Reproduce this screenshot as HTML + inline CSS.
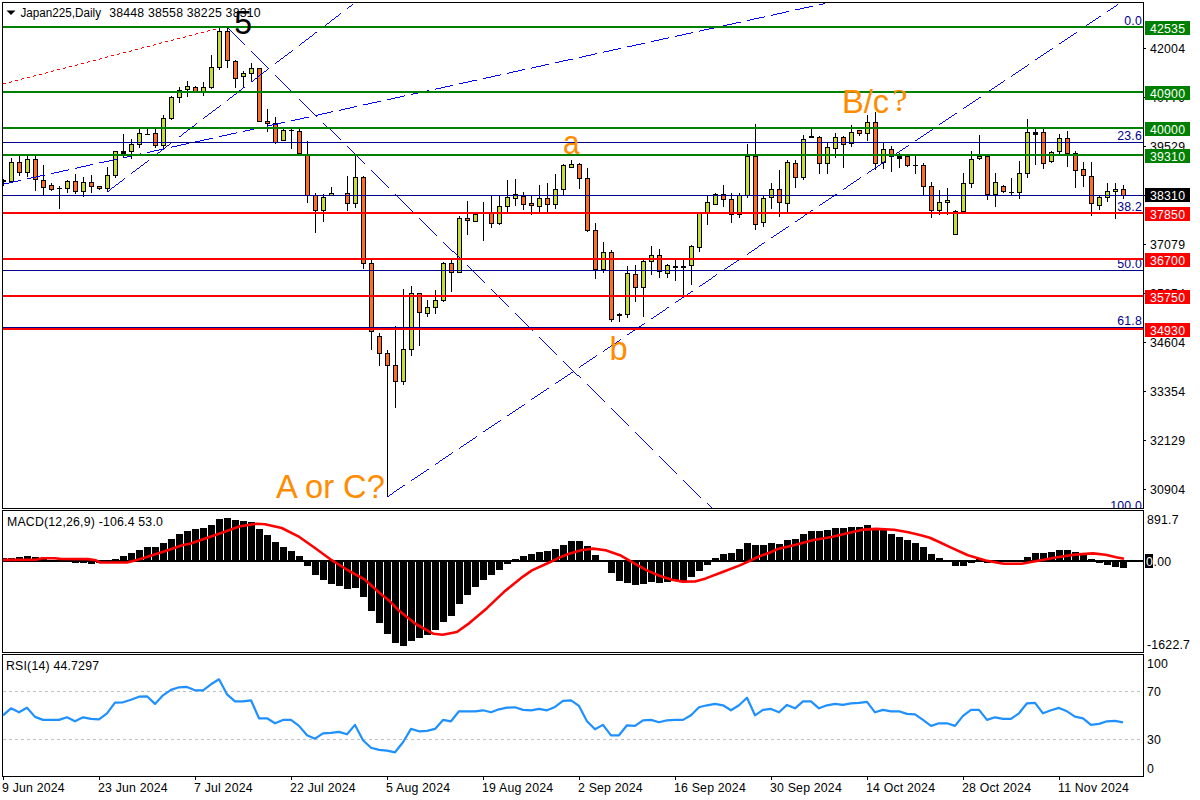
<!DOCTYPE html>
<html><head><meta charset="utf-8"><title>Japan225 Daily</title>
<style>html,body{margin:0;padding:0;background:#fff;overflow:hidden}</style></head>
<body>
<svg width="1200" height="800" viewBox="0 0 1200 800" style="display:block">
<defs>
<clipPath id="cm"><rect x="3" y="3" width="1140" height="505"/></clipPath>
<clipPath id="cd"><rect x="3" y="511" width="1140" height="141"/></clipPath>
<clipPath id="cr"><rect x="3" y="655" width="1140" height="121"/></clipPath>
</defs>
<rect width="1200" height="800" fill="#fff"/>
<g clip-path="url(#cm)" shape-rendering="crispEdges">
<rect x="3" y="179" width="1" height="7" fill="#000"/>
<rect x="1" y="180" width="5" height="2" fill="#000"/>
<rect x="11" y="158" width="1" height="24" fill="#000"/>
<rect x="9" y="162" width="5" height="20" fill="#000"/>
<rect x="10" y="163" width="3" height="18" fill="#C9DC34"/>
<rect x="19" y="156" width="1" height="20" fill="#000"/>
<rect x="17" y="162" width="5" height="11" fill="#000"/>
<rect x="18" y="163" width="3" height="9" fill="#FF6C24"/>
<rect x="27" y="156" width="1" height="21" fill="#000"/>
<rect x="25" y="159" width="5" height="14" fill="#000"/>
<rect x="26" y="160" width="3" height="12" fill="#C9DC34"/>
<rect x="35" y="156" width="1" height="35" fill="#000"/>
<rect x="33" y="159" width="5" height="21" fill="#000"/>
<rect x="34" y="160" width="3" height="19" fill="#FF6C24"/>
<rect x="43" y="165" width="1" height="30" fill="#000"/>
<rect x="41" y="180" width="5" height="8" fill="#000"/>
<rect x="42" y="181" width="3" height="6" fill="#FF6C24"/>
<rect x="51" y="183" width="1" height="8" fill="#000"/>
<rect x="49" y="185" width="5" height="5" fill="#000"/>
<rect x="50" y="186" width="3" height="3" fill="#FF6C24"/>
<rect x="59" y="186" width="1" height="23" fill="#000"/>
<rect x="57" y="188" width="5" height="1" fill="#000"/>
<rect x="67" y="180" width="1" height="13" fill="#000"/>
<rect x="65" y="181" width="5" height="8" fill="#000"/>
<rect x="66" y="182" width="3" height="6" fill="#C9DC34"/>
<rect x="75" y="174" width="1" height="20" fill="#000"/>
<rect x="73" y="181" width="5" height="11" fill="#000"/>
<rect x="74" y="182" width="3" height="9" fill="#FF6C24"/>
<rect x="83" y="177" width="1" height="20" fill="#000"/>
<rect x="81" y="182" width="5" height="10" fill="#000"/>
<rect x="82" y="183" width="3" height="8" fill="#C9DC34"/>
<rect x="91" y="175" width="1" height="18" fill="#000"/>
<rect x="89" y="182" width="5" height="5" fill="#000"/>
<rect x="90" y="183" width="3" height="3" fill="#FF6C24"/>
<rect x="99" y="186" width="1" height="4" fill="#000"/>
<rect x="97" y="186" width="5" height="3" fill="#000"/>
<rect x="98" y="187" width="3" height="1" fill="#FF6C24"/>
<rect x="107" y="167" width="1" height="25" fill="#000"/>
<rect x="105" y="175" width="5" height="14" fill="#000"/>
<rect x="106" y="176" width="3" height="12" fill="#C9DC34"/>
<rect x="115" y="151" width="1" height="27" fill="#000"/>
<rect x="113" y="151" width="5" height="25" fill="#000"/>
<rect x="114" y="152" width="3" height="23" fill="#C9DC34"/>
<rect x="123" y="134" width="1" height="24" fill="#000"/>
<rect x="121" y="151" width="5" height="3" fill="#000"/>
<rect x="131" y="139" width="1" height="20" fill="#000"/>
<rect x="129" y="144" width="5" height="8" fill="#000"/>
<rect x="130" y="145" width="3" height="6" fill="#C9DC34"/>
<rect x="139" y="129" width="1" height="19" fill="#000"/>
<rect x="137" y="133" width="5" height="12" fill="#000"/>
<rect x="138" y="134" width="3" height="10" fill="#C9DC34"/>
<rect x="147" y="129" width="1" height="6" fill="#000"/>
<rect x="145" y="134" width="5" height="1" fill="#000"/>
<rect x="155" y="129" width="1" height="19" fill="#000"/>
<rect x="153" y="133" width="5" height="13" fill="#000"/>
<rect x="154" y="134" width="3" height="11" fill="#FF6C24"/>
<rect x="163" y="115" width="1" height="33" fill="#000"/>
<rect x="161" y="118" width="5" height="28" fill="#000"/>
<rect x="162" y="119" width="3" height="26" fill="#C9DC34"/>
<rect x="171" y="96" width="1" height="24" fill="#000"/>
<rect x="169" y="97" width="5" height="22" fill="#000"/>
<rect x="170" y="98" width="3" height="20" fill="#C9DC34"/>
<rect x="179" y="87" width="1" height="16" fill="#000"/>
<rect x="177" y="90" width="5" height="8" fill="#000"/>
<rect x="178" y="91" width="3" height="6" fill="#C9DC34"/>
<rect x="187" y="81" width="1" height="16" fill="#000"/>
<rect x="185" y="86" width="5" height="4" fill="#000"/>
<rect x="186" y="87" width="3" height="2" fill="#C9DC34"/>
<rect x="195" y="86" width="1" height="5" fill="#000"/>
<rect x="193" y="87" width="5" height="5" fill="#000"/>
<rect x="194" y="88" width="3" height="3" fill="#FF6C24"/>
<rect x="203" y="82" width="1" height="14" fill="#000"/>
<rect x="201" y="87" width="5" height="5" fill="#000"/>
<rect x="202" y="88" width="3" height="3" fill="#C9DC34"/>
<rect x="211" y="55" width="1" height="34" fill="#000"/>
<rect x="209" y="67" width="5" height="21" fill="#000"/>
<rect x="210" y="68" width="3" height="19" fill="#C9DC34"/>
<rect x="219" y="28" width="1" height="42" fill="#000"/>
<rect x="217" y="31" width="5" height="37" fill="#000"/>
<rect x="218" y="32" width="3" height="35" fill="#C9DC34"/>
<rect x="227" y="28" width="1" height="40" fill="#000"/>
<rect x="225" y="31" width="5" height="30" fill="#000"/>
<rect x="226" y="32" width="3" height="28" fill="#FF6C24"/>
<rect x="235" y="60" width="1" height="28" fill="#000"/>
<rect x="233" y="61" width="5" height="18" fill="#000"/>
<rect x="234" y="62" width="3" height="16" fill="#FF6C24"/>
<rect x="243" y="71" width="1" height="16" fill="#000"/>
<rect x="241" y="73" width="5" height="4" fill="#000"/>
<rect x="242" y="74" width="3" height="2" fill="#C9DC34"/>
<rect x="251" y="63" width="1" height="19" fill="#000"/>
<rect x="249" y="68" width="5" height="6" fill="#000"/>
<rect x="250" y="69" width="3" height="4" fill="#C9DC34"/>
<rect x="259" y="68" width="1" height="53" fill="#000"/>
<rect x="257" y="68" width="5" height="54" fill="#000"/>
<rect x="258" y="69" width="3" height="52" fill="#FF6C24"/>
<rect x="267" y="109" width="1" height="23" fill="#000"/>
<rect x="265" y="121" width="5" height="3" fill="#000"/>
<rect x="266" y="122" width="3" height="1" fill="#FF6C24"/>
<rect x="275" y="117" width="1" height="27" fill="#000"/>
<rect x="273" y="123" width="5" height="20" fill="#000"/>
<rect x="274" y="124" width="3" height="18" fill="#FF6C24"/>
<rect x="283" y="129" width="1" height="11" fill="#000"/>
<rect x="281" y="130" width="5" height="11" fill="#000"/>
<rect x="282" y="131" width="3" height="9" fill="#C9DC34"/>
<rect x="291" y="129" width="1" height="20" fill="#000"/>
<rect x="289" y="130" width="5" height="1" fill="#000"/>
<rect x="299" y="129" width="1" height="25" fill="#000"/>
<rect x="297" y="131" width="5" height="23" fill="#000"/>
<rect x="298" y="132" width="3" height="21" fill="#FF6C24"/>
<rect x="307" y="141" width="1" height="62" fill="#000"/>
<rect x="305" y="154" width="5" height="42" fill="#000"/>
<rect x="306" y="155" width="3" height="40" fill="#FF6C24"/>
<rect x="315" y="193" width="1" height="40" fill="#000"/>
<rect x="313" y="195" width="5" height="16" fill="#000"/>
<rect x="314" y="196" width="3" height="14" fill="#FF6C24"/>
<rect x="323" y="194" width="1" height="28" fill="#000"/>
<rect x="321" y="197" width="5" height="14" fill="#000"/>
<rect x="322" y="198" width="3" height="12" fill="#C9DC34"/>
<rect x="331" y="187" width="1" height="8" fill="#000"/>
<rect x="329" y="193" width="5" height="3" fill="#000"/>
<rect x="330" y="194" width="3" height="1" fill="#C9DC34"/>
<rect x="337" y="195" width="5" height="1" fill="#000"/>
<rect x="347" y="176" width="1" height="35" fill="#000"/>
<rect x="345" y="193" width="5" height="11" fill="#000"/>
<rect x="346" y="194" width="3" height="9" fill="#FF6C24"/>
<rect x="355" y="156" width="1" height="52" fill="#000"/>
<rect x="353" y="177" width="5" height="27" fill="#000"/>
<rect x="354" y="178" width="3" height="25" fill="#C9DC34"/>
<rect x="363" y="176" width="1" height="93" fill="#000"/>
<rect x="361" y="177" width="5" height="87" fill="#000"/>
<rect x="362" y="178" width="3" height="85" fill="#FF6C24"/>
<rect x="371" y="260" width="1" height="90" fill="#000"/>
<rect x="369" y="263" width="5" height="69" fill="#000"/>
<rect x="370" y="264" width="3" height="67" fill="#FF6C24"/>
<rect x="379" y="333" width="1" height="33" fill="#000"/>
<rect x="377" y="336" width="5" height="18" fill="#000"/>
<rect x="378" y="337" width="3" height="16" fill="#FF6C24"/>
<rect x="387" y="350" width="1" height="146" fill="#000"/>
<rect x="385" y="353" width="5" height="13" fill="#000"/>
<rect x="386" y="354" width="3" height="11" fill="#FF6C24"/>
<rect x="395" y="326" width="1" height="82" fill="#000"/>
<rect x="393" y="365" width="5" height="17" fill="#000"/>
<rect x="394" y="366" width="3" height="15" fill="#FF6C24"/>
<rect x="403" y="289" width="1" height="96" fill="#000"/>
<rect x="401" y="349" width="5" height="33" fill="#000"/>
<rect x="402" y="350" width="3" height="31" fill="#C9DC34"/>
<rect x="411" y="286" width="1" height="70" fill="#000"/>
<rect x="409" y="293" width="5" height="57" fill="#000"/>
<rect x="410" y="294" width="3" height="55" fill="#C9DC34"/>
<rect x="419" y="293" width="1" height="53" fill="#000"/>
<rect x="417" y="293" width="5" height="20" fill="#000"/>
<rect x="418" y="294" width="3" height="18" fill="#FF6C24"/>
<rect x="427" y="300" width="1" height="17" fill="#000"/>
<rect x="425" y="307" width="5" height="7" fill="#000"/>
<rect x="426" y="308" width="3" height="5" fill="#C9DC34"/>
<rect x="435" y="290" width="1" height="24" fill="#000"/>
<rect x="433" y="300" width="5" height="8" fill="#000"/>
<rect x="434" y="301" width="3" height="6" fill="#C9DC34"/>
<rect x="443" y="262" width="1" height="40" fill="#000"/>
<rect x="441" y="263" width="5" height="38" fill="#000"/>
<rect x="442" y="264" width="3" height="36" fill="#C9DC34"/>
<rect x="451" y="260" width="1" height="32" fill="#000"/>
<rect x="449" y="263" width="5" height="10" fill="#000"/>
<rect x="450" y="264" width="3" height="8" fill="#FF6C24"/>
<rect x="459" y="216" width="1" height="56" fill="#000"/>
<rect x="457" y="218" width="5" height="55" fill="#000"/>
<rect x="458" y="219" width="3" height="53" fill="#C9DC34"/>
<rect x="467" y="201" width="1" height="34" fill="#000"/>
<rect x="465" y="218" width="5" height="3" fill="#000"/>
<rect x="466" y="219" width="3" height="1" fill="#FF6C24"/>
<rect x="475" y="214" width="1" height="7" fill="#000"/>
<rect x="473" y="214" width="5" height="8" fill="#000"/>
<rect x="474" y="215" width="3" height="6" fill="#C9DC34"/>
<rect x="483" y="202" width="1" height="39" fill="#000"/>
<rect x="481" y="213" width="5" height="1" fill="#000"/>
<rect x="491" y="195" width="1" height="33" fill="#000"/>
<rect x="489" y="213" width="5" height="11" fill="#000"/>
<rect x="490" y="214" width="3" height="9" fill="#FF6C24"/>
<rect x="499" y="196" width="1" height="29" fill="#000"/>
<rect x="497" y="206" width="5" height="18" fill="#000"/>
<rect x="498" y="207" width="3" height="16" fill="#C9DC34"/>
<rect x="507" y="180" width="1" height="32" fill="#000"/>
<rect x="505" y="197" width="5" height="10" fill="#000"/>
<rect x="506" y="198" width="3" height="8" fill="#C9DC34"/>
<rect x="515" y="179" width="1" height="27" fill="#000"/>
<rect x="513" y="194" width="5" height="5" fill="#000"/>
<rect x="514" y="195" width="3" height="3" fill="#C9DC34"/>
<rect x="523" y="192" width="1" height="18" fill="#000"/>
<rect x="521" y="196" width="5" height="9" fill="#000"/>
<rect x="522" y="197" width="3" height="7" fill="#FF6C24"/>
<rect x="531" y="196" width="1" height="19" fill="#000"/>
<rect x="529" y="203" width="5" height="3" fill="#000"/>
<rect x="530" y="204" width="3" height="1" fill="#FF6C24"/>
<rect x="539" y="185" width="1" height="27" fill="#000"/>
<rect x="537" y="198" width="5" height="9" fill="#000"/>
<rect x="538" y="199" width="3" height="7" fill="#C9DC34"/>
<rect x="547" y="183" width="1" height="29" fill="#000"/>
<rect x="545" y="198" width="5" height="7" fill="#000"/>
<rect x="546" y="199" width="3" height="5" fill="#FF6C24"/>
<rect x="555" y="174" width="1" height="35" fill="#000"/>
<rect x="553" y="189" width="5" height="16" fill="#000"/>
<rect x="554" y="190" width="3" height="14" fill="#C9DC34"/>
<rect x="563" y="164" width="1" height="31" fill="#000"/>
<rect x="561" y="165" width="5" height="25" fill="#000"/>
<rect x="562" y="166" width="3" height="23" fill="#C9DC34"/>
<rect x="571" y="160" width="1" height="8" fill="#000"/>
<rect x="569" y="164" width="5" height="4" fill="#000"/>
<rect x="570" y="165" width="3" height="2" fill="#C9DC34"/>
<rect x="579" y="163" width="1" height="26" fill="#000"/>
<rect x="577" y="164" width="5" height="15" fill="#000"/>
<rect x="578" y="165" width="3" height="13" fill="#FF6C24"/>
<rect x="587" y="168" width="1" height="64" fill="#000"/>
<rect x="585" y="178" width="5" height="53" fill="#000"/>
<rect x="586" y="179" width="3" height="51" fill="#FF6C24"/>
<rect x="595" y="223" width="1" height="56" fill="#000"/>
<rect x="593" y="230" width="5" height="40" fill="#000"/>
<rect x="594" y="231" width="3" height="38" fill="#FF6C24"/>
<rect x="603" y="242" width="1" height="31" fill="#000"/>
<rect x="601" y="252" width="5" height="18" fill="#000"/>
<rect x="602" y="253" width="3" height="16" fill="#C9DC34"/>
<rect x="611" y="250" width="1" height="72" fill="#000"/>
<rect x="609" y="252" width="5" height="68" fill="#000"/>
<rect x="610" y="253" width="3" height="66" fill="#FF6C24"/>
<rect x="619" y="313" width="1" height="9" fill="#000"/>
<rect x="617" y="314" width="5" height="2" fill="#000"/>
<rect x="627" y="266" width="1" height="52" fill="#000"/>
<rect x="625" y="273" width="5" height="42" fill="#000"/>
<rect x="626" y="274" width="3" height="40" fill="#C9DC34"/>
<rect x="635" y="265" width="1" height="37" fill="#000"/>
<rect x="633" y="274" width="5" height="14" fill="#000"/>
<rect x="634" y="275" width="3" height="12" fill="#FF6C24"/>
<rect x="643" y="260" width="1" height="57" fill="#000"/>
<rect x="641" y="261" width="5" height="27" fill="#000"/>
<rect x="642" y="262" width="3" height="25" fill="#C9DC34"/>
<rect x="651" y="246" width="1" height="29" fill="#000"/>
<rect x="649" y="255" width="5" height="7" fill="#000"/>
<rect x="650" y="256" width="3" height="5" fill="#C9DC34"/>
<rect x="659" y="249" width="1" height="29" fill="#000"/>
<rect x="657" y="255" width="5" height="17" fill="#000"/>
<rect x="658" y="256" width="3" height="15" fill="#FF6C24"/>
<rect x="667" y="264" width="1" height="14" fill="#000"/>
<rect x="665" y="265" width="5" height="9" fill="#000"/>
<rect x="666" y="266" width="3" height="7" fill="#C9DC34"/>
<rect x="675" y="260" width="1" height="21" fill="#000"/>
<rect x="673" y="266" width="5" height="2" fill="#000"/>
<rect x="683" y="260" width="1" height="35" fill="#000"/>
<rect x="681" y="266" width="5" height="2" fill="#000"/>
<rect x="691" y="245" width="1" height="40" fill="#000"/>
<rect x="689" y="246" width="5" height="20" fill="#000"/>
<rect x="690" y="247" width="3" height="18" fill="#C9DC34"/>
<rect x="699" y="213" width="1" height="39" fill="#000"/>
<rect x="697" y="213" width="5" height="35" fill="#000"/>
<rect x="698" y="214" width="3" height="33" fill="#C9DC34"/>
<rect x="707" y="195" width="1" height="30" fill="#000"/>
<rect x="705" y="202" width="5" height="11" fill="#000"/>
<rect x="706" y="203" width="3" height="9" fill="#C9DC34"/>
<rect x="715" y="193" width="1" height="11" fill="#000"/>
<rect x="713" y="194" width="5" height="11" fill="#000"/>
<rect x="714" y="195" width="3" height="9" fill="#C9DC34"/>
<rect x="723" y="185" width="1" height="22" fill="#000"/>
<rect x="721" y="194" width="5" height="6" fill="#000"/>
<rect x="722" y="195" width="3" height="4" fill="#FF6C24"/>
<rect x="731" y="193" width="1" height="30" fill="#000"/>
<rect x="729" y="199" width="5" height="16" fill="#000"/>
<rect x="730" y="200" width="3" height="14" fill="#FF6C24"/>
<rect x="739" y="193" width="1" height="25" fill="#000"/>
<rect x="737" y="195" width="5" height="20" fill="#000"/>
<rect x="738" y="196" width="3" height="18" fill="#C9DC34"/>
<rect x="747" y="144" width="1" height="54" fill="#000"/>
<rect x="745" y="156" width="5" height="40" fill="#000"/>
<rect x="746" y="157" width="3" height="38" fill="#C9DC34"/>
<rect x="755" y="124" width="1" height="106" fill="#000"/>
<rect x="753" y="156" width="5" height="69" fill="#000"/>
<rect x="754" y="157" width="3" height="67" fill="#FF6C24"/>
<rect x="763" y="196" width="1" height="31" fill="#000"/>
<rect x="761" y="198" width="5" height="25" fill="#000"/>
<rect x="762" y="199" width="3" height="23" fill="#C9DC34"/>
<rect x="771" y="183" width="1" height="26" fill="#000"/>
<rect x="769" y="189" width="5" height="9" fill="#000"/>
<rect x="770" y="190" width="3" height="7" fill="#C9DC34"/>
<rect x="779" y="170" width="1" height="47" fill="#000"/>
<rect x="777" y="189" width="5" height="14" fill="#000"/>
<rect x="778" y="190" width="3" height="12" fill="#FF6C24"/>
<rect x="787" y="160" width="1" height="52" fill="#000"/>
<rect x="785" y="162" width="5" height="42" fill="#000"/>
<rect x="786" y="163" width="3" height="40" fill="#C9DC34"/>
<rect x="795" y="160" width="1" height="28" fill="#000"/>
<rect x="793" y="163" width="5" height="15" fill="#000"/>
<rect x="794" y="164" width="3" height="13" fill="#FF6C24"/>
<rect x="803" y="135" width="1" height="45" fill="#000"/>
<rect x="801" y="139" width="5" height="39" fill="#000"/>
<rect x="802" y="140" width="3" height="37" fill="#C9DC34"/>
<rect x="811" y="129" width="1" height="8" fill="#000"/>
<rect x="809" y="136" width="5" height="2" fill="#000"/>
<rect x="819" y="136" width="1" height="38" fill="#000"/>
<rect x="817" y="137" width="5" height="27" fill="#000"/>
<rect x="818" y="138" width="3" height="25" fill="#FF6C24"/>
<rect x="827" y="143" width="1" height="31" fill="#000"/>
<rect x="825" y="147" width="5" height="17" fill="#000"/>
<rect x="826" y="148" width="3" height="15" fill="#C9DC34"/>
<rect x="835" y="133" width="1" height="25" fill="#000"/>
<rect x="833" y="137" width="5" height="12" fill="#000"/>
<rect x="834" y="138" width="3" height="10" fill="#C9DC34"/>
<rect x="843" y="136" width="1" height="32" fill="#000"/>
<rect x="841" y="137" width="5" height="8" fill="#000"/>
<rect x="842" y="138" width="3" height="6" fill="#FF6C24"/>
<rect x="851" y="125" width="1" height="22" fill="#000"/>
<rect x="849" y="132" width="5" height="12" fill="#000"/>
<rect x="850" y="133" width="3" height="10" fill="#C9DC34"/>
<rect x="859" y="130" width="1" height="6" fill="#000"/>
<rect x="857" y="130" width="5" height="4" fill="#000"/>
<rect x="858" y="131" width="3" height="2" fill="#FF6C24"/>
<rect x="867" y="115" width="1" height="26" fill="#000"/>
<rect x="865" y="122" width="5" height="12" fill="#000"/>
<rect x="866" y="123" width="3" height="10" fill="#C9DC34"/>
<rect x="875" y="112" width="1" height="58" fill="#000"/>
<rect x="873" y="122" width="5" height="42" fill="#000"/>
<rect x="874" y="123" width="3" height="40" fill="#FF6C24"/>
<rect x="883" y="143" width="1" height="26" fill="#000"/>
<rect x="881" y="149" width="5" height="14" fill="#000"/>
<rect x="882" y="150" width="3" height="12" fill="#C9DC34"/>
<rect x="891" y="146" width="1" height="26" fill="#000"/>
<rect x="889" y="149" width="5" height="8" fill="#000"/>
<rect x="890" y="150" width="3" height="6" fill="#FF6C24"/>
<rect x="899" y="153" width="1" height="15" fill="#000"/>
<rect x="897" y="156" width="5" height="3" fill="#000"/>
<rect x="907" y="154" width="1" height="13" fill="#000"/>
<rect x="905" y="156" width="5" height="10" fill="#000"/>
<rect x="906" y="157" width="3" height="8" fill="#FF6C24"/>
<rect x="915" y="156" width="1" height="18" fill="#000"/>
<rect x="913" y="165" width="5" height="1" fill="#000"/>
<rect x="923" y="163" width="1" height="32" fill="#000"/>
<rect x="921" y="165" width="5" height="22" fill="#000"/>
<rect x="922" y="166" width="3" height="20" fill="#FF6C24"/>
<rect x="931" y="182" width="1" height="36" fill="#000"/>
<rect x="929" y="186" width="5" height="25" fill="#000"/>
<rect x="930" y="187" width="3" height="23" fill="#FF6C24"/>
<rect x="939" y="190" width="1" height="25" fill="#000"/>
<rect x="937" y="202" width="5" height="9" fill="#000"/>
<rect x="938" y="203" width="3" height="7" fill="#C9DC34"/>
<rect x="947" y="188" width="1" height="27" fill="#000"/>
<rect x="945" y="200" width="5" height="3" fill="#000"/>
<rect x="946" y="201" width="3" height="1" fill="#C9DC34"/>
<rect x="955" y="210" width="1" height="24" fill="#000"/>
<rect x="953" y="211" width="5" height="24" fill="#000"/>
<rect x="954" y="212" width="3" height="22" fill="#C9DC34"/>
<rect x="963" y="173" width="1" height="39" fill="#000"/>
<rect x="961" y="183" width="5" height="29" fill="#000"/>
<rect x="962" y="184" width="3" height="27" fill="#C9DC34"/>
<rect x="971" y="151" width="1" height="37" fill="#000"/>
<rect x="969" y="159" width="5" height="25" fill="#000"/>
<rect x="970" y="160" width="3" height="23" fill="#C9DC34"/>
<rect x="979" y="135" width="1" height="25" fill="#000"/>
<rect x="977" y="156" width="5" height="3" fill="#000"/>
<rect x="978" y="157" width="3" height="1" fill="#C9DC34"/>
<rect x="987" y="156" width="1" height="44" fill="#000"/>
<rect x="985" y="156" width="5" height="39" fill="#000"/>
<rect x="986" y="157" width="3" height="37" fill="#FF6C24"/>
<rect x="995" y="173" width="1" height="34" fill="#000"/>
<rect x="993" y="182" width="5" height="13" fill="#000"/>
<rect x="994" y="183" width="3" height="11" fill="#C9DC34"/>
<rect x="1003" y="185" width="1" height="8" fill="#000"/>
<rect x="1001" y="186" width="5" height="6" fill="#000"/>
<rect x="1002" y="187" width="3" height="4" fill="#FF6C24"/>
<rect x="1011" y="178" width="1" height="17" fill="#000"/>
<rect x="1009" y="192" width="5" height="1" fill="#000"/>
<rect x="1019" y="161" width="1" height="38" fill="#000"/>
<rect x="1017" y="173" width="5" height="20" fill="#000"/>
<rect x="1018" y="174" width="3" height="18" fill="#C9DC34"/>
<rect x="1027" y="119" width="1" height="59" fill="#000"/>
<rect x="1025" y="132" width="5" height="42" fill="#000"/>
<rect x="1026" y="133" width="3" height="40" fill="#C9DC34"/>
<rect x="1035" y="129" width="1" height="36" fill="#000"/>
<rect x="1033" y="132" width="5" height="3" fill="#000"/>
<rect x="1043" y="129" width="1" height="40" fill="#000"/>
<rect x="1041" y="132" width="5" height="32" fill="#000"/>
<rect x="1042" y="133" width="3" height="30" fill="#FF6C24"/>
<rect x="1051" y="151" width="1" height="12" fill="#000"/>
<rect x="1049" y="152" width="5" height="10" fill="#000"/>
<rect x="1050" y="153" width="3" height="8" fill="#C9DC34"/>
<rect x="1059" y="134" width="1" height="20" fill="#000"/>
<rect x="1057" y="138" width="5" height="14" fill="#000"/>
<rect x="1058" y="139" width="3" height="12" fill="#C9DC34"/>
<rect x="1067" y="131" width="1" height="36" fill="#000"/>
<rect x="1065" y="138" width="5" height="16" fill="#000"/>
<rect x="1066" y="139" width="3" height="14" fill="#FF6C24"/>
<rect x="1075" y="151" width="1" height="37" fill="#000"/>
<rect x="1073" y="153" width="5" height="18" fill="#000"/>
<rect x="1074" y="154" width="3" height="16" fill="#FF6C24"/>
<rect x="1083" y="162" width="1" height="25" fill="#000"/>
<rect x="1081" y="169" width="5" height="7" fill="#000"/>
<rect x="1082" y="170" width="3" height="5" fill="#FF6C24"/>
<rect x="1091" y="162" width="1" height="54" fill="#000"/>
<rect x="1089" y="176" width="5" height="28" fill="#000"/>
<rect x="1090" y="177" width="3" height="26" fill="#FF6C24"/>
<rect x="1099" y="196" width="1" height="14" fill="#000"/>
<rect x="1097" y="197" width="5" height="9" fill="#000"/>
<rect x="1098" y="198" width="3" height="7" fill="#C9DC34"/>
<rect x="1107" y="183" width="1" height="19" fill="#000"/>
<rect x="1105" y="191" width="5" height="7" fill="#000"/>
<rect x="1106" y="192" width="3" height="5" fill="#C9DC34"/>
<rect x="1115" y="183" width="1" height="36" fill="#000"/>
<rect x="1113" y="189" width="5" height="3" fill="#000"/>
<rect x="1114" y="190" width="3" height="1" fill="#C9DC34"/>
<rect x="1123" y="185" width="1" height="14" fill="#000"/>
<rect x="1121" y="189" width="5" height="7" fill="#000"/>
<rect x="1122" y="190" width="3" height="5" fill="#FF6C24"/>
</g>
<g clip-path="url(#cm)">
<path d="M213 29h3v1h-3zM208 30h2v1h-2zM207 31h1v1h-1zM201 32h3v1h-3zM196 33h2v1h-2zM195 34h1v1h-1zM189 35h3v1h-3zM185 36h1v1h-1zM183 37h2v1h-2zM177 38h3v1h-3zM173 39h1v1h-1zM171 40h2v1h-2zM165 41h3v1h-3zM161 42h1v1h-1zM159 43h2v1h-2zM154 44h2v1h-2zM153 45h1v1h-1zM147 46h3v1h-3zM142 47h2v1h-2zM141 48h1v1h-1zM135 49h3v1h-3zM131 50h1v1h-1zM129 51h2v1h-2zM123 52h3v1h-3zM119 53h1v1h-1zM117 54h2v1h-2zM111 55h3v1h-3zM107 56h1v1h-1zM105 57h2v1h-2zM100 58h2v1h-2zM99 59h1v1h-1zM93 60h3v1h-3zM88 61h2v1h-2zM87 62h1v1h-1zM81 63h3v1h-3zM77 64h1v1h-1zM75 65h2v1h-2zM69 66h3v1h-3zM65 67h1v1h-1zM63 68h2v1h-2zM57 69h3v1h-3zM53 70h1v1h-1zM51 71h2v1h-2zM46 72h2v1h-2zM45 73h1v1h-1zM39 74h3v1h-3zM34 75h2v1h-2zM33 76h1v1h-1zM27 77h3v1h-3zM22 78h2v1h-2zM21 79h1v1h-1zM15 80h3v1h-3zM11 81h1v1h-1zM9 82h2v1h-2zM3 83h3v1h-3z" fill="#FF0000" shape-rendering="crispEdges"/>
<path d="M823 3h2v1h-2zM819 4h4v1h-4zM809 6h4v1h-4zM804 7h5v1h-5zM800 8h4v1h-4zM795 9h5v1h-5zM786 11h3v1h-3zM782 12h4v1h-4zM777 13h5v1h-5zM773 14h4v1h-4zM771 15h2v1h-2zM764 16h1v1h-1zM759 17h5v1h-5zM754 18h5v1h-5zM750 19h4v1h-4zM747 20h3v1h-3zM736 22h5v1h-5zM732 23h4v1h-4zM727 24h5v1h-5zM723 25h4v1h-4zM714 27h3v1h-3zM709 28h5v1h-5zM704 29h5v1h-5zM700 30h4v1h-4zM699 31h1v1h-1zM691 32h2v1h-2zM686 33h5v1h-5zM682 34h4v1h-4zM677 35h5v1h-5zM675 36h2v1h-2zM668 37h1v1h-1zM663 38h5v1h-5zM659 39h4v1h-4zM654 40h5v1h-5zM651 41h3v1h-3zM641 43h4v1h-4zM636 44h5v1h-5zM632 45h4v1h-4zM627 46h5v1h-5zM618 48h3v1h-3zM613 49h5v1h-5zM609 50h4v1h-4zM604 51h5v1h-5zM603 52h1v1h-1zM595 53h2v1h-2zM591 54h4v1h-4zM586 55h5v1h-5zM582 56h4v1h-4zM579 57h3v1h-3zM568 59h5v1h-5zM563 60h5v1h-5zM559 61h4v1h-4zM555 62h4v1h-4zM545 64h4v1h-4zM541 65h4v1h-4zM536 66h5v1h-5zM532 67h4v1h-4zM531 68h1v1h-1zM522 69h3v1h-3zM518 70h4v1h-4zM513 71h5v1h-5zM509 72h4v1h-4zM507 73h2v1h-2zM500 74h1v1h-1zM495 75h5v1h-5zM491 76h4v1h-4zM486 77h5v1h-5zM483 78h3v1h-3zM472 80h5v1h-5zM468 81h4v1h-4zM463 82h5v1h-5zM459 83h4v1h-4zM450 85h3v1h-3zM445 86h5v1h-5zM441 87h4v1h-4zM436 88h5v1h-5zM435 89h1v1h-1zM427 90h2v1h-2zM422 91h5v1h-5zM418 92h4v1h-4zM413 93h5v1h-5zM411 94h2v1h-2zM404 95h1v1h-1zM400 96h4v1h-4zM395 97h5v1h-5zM391 98h4v1h-4zM387 99h4v1h-4zM377 101h4v1h-4zM372 102h5v1h-5zM368 103h4v1h-4zM363 104h5v1h-5zM354 106h3v1h-3zM350 107h4v1h-4zM345 108h5v1h-5zM341 109h4v1h-4zM339 110h2v1h-2zM331 111h2v1h-2zM327 112h4v1h-4zM322 113h5v1h-5zM318 114h4v1h-4zM315 115h3v1h-3zM304 117h5v1h-5zM300 118h4v1h-4zM295 119h5v1h-5zM291 120h4v1h-4zM281 122h4v1h-4zM277 123h4v1h-4zM272 124h5v1h-5zM268 125h4v1h-4zM267 126h1v1h-1zM259 127h2v1h-2zM254 128h5v1h-5zM250 129h4v1h-4zM245 130h5v1h-5zM243 131h2v1h-2zM236 132h1v1h-1zM231 133h5v1h-5zM227 134h4v1h-4zM222 135h5v1h-5zM219 136h3v1h-3zM209 138h4v1h-4zM204 139h5v1h-5zM200 140h4v1h-4zM195 141h5v1h-5zM186 143h3v1h-3zM181 144h5v1h-5zM177 145h4v1h-4zM172 146h5v1h-5zM171 147h1v1h-1zM163 148h2v1h-2zM159 149h4v1h-4zM154 150h5v1h-5zM150 151h4v1h-4zM147 152h3v1h-3zM140 153h1v1h-1zM136 154h4v1h-4zM131 155h5v1h-5zM127 156h4v1h-4zM123 157h4v1h-4zM113 159h4v1h-4zM109 160h4v1h-4zM104 161h5v1h-5zM99 162h5v1h-5zM90 164h3v1h-3zM86 165h4v1h-4zM81 166h5v1h-5zM77 167h4v1h-4zM75 168h2v1h-2zM68 169h1v1h-1zM63 170h5v1h-5zM59 171h4v1h-4zM54 172h5v1h-5zM51 173h3v1h-3zM40 175h5v1h-5zM36 176h4v1h-4zM31 177h5v1h-5zM27 178h4v1h-4zM18 180h3v1h-3zM13 181h5v1h-5zM9 182h4v1h-4zM4 183h5v1h-5zM3 184h1v1h-1z" fill="#0000FF" shape-rendering="crispEdges"/>
<path d="M352 4h1v1h-1zM351 5h1v1h-1zM349 6h2v1h-2zM348 7h1v1h-1zM347 8h1v1h-1zM340 13h1v1h-1zM339 14h1v1h-1zM338 15h1v1h-1zM336 16h2v1h-2zM335 17h1v1h-1zM334 18h1v1h-1zM332 19h2v1h-2zM331 20h1v1h-1zM330 21h1v1h-1zM329 22h1v1h-1zM327 23h2v1h-2zM326 24h1v1h-1zM325 25h1v1h-1zM323 26h2v1h-2zM315 32h2v1h-2zM314 33h1v1h-1zM313 34h1v1h-1zM312 35h1v1h-1zM310 36h2v1h-2zM309 37h1v1h-1zM308 38h1v1h-1zM306 39h2v1h-2zM305 40h1v1h-1zM304 41h1v1h-1zM302 42h2v1h-2zM301 43h1v1h-1zM300 44h1v1h-1zM299 45h1v1h-1zM292 50h1v1h-1zM291 51h1v1h-1zM289 52h2v1h-2zM288 53h1v1h-1zM287 54h1v1h-1zM285 55h2v1h-2zM284 56h1v1h-1zM283 57h1v1h-1zM281 58h2v1h-2zM280 59h1v1h-1zM279 60h1v1h-1zM277 61h2v1h-2zM276 62h1v1h-1zM275 63h1v1h-1zM268 68h1v1h-1zM267 69h1v1h-1zM266 70h1v1h-1zM264 71h2v1h-2zM263 72h1v1h-1zM262 73h1v1h-1zM260 74h2v1h-2zM259 75h1v1h-1zM258 76h1v1h-1zM257 77h1v1h-1zM255 78h2v1h-2zM254 79h1v1h-1zM253 80h1v1h-1zM251 81h2v1h-2zM243 87h2v1h-2zM242 88h1v1h-1zM241 89h1v1h-1zM239 90h2v1h-2zM238 91h1v1h-1zM237 92h1v1h-1zM236 93h1v1h-1zM234 94h2v1h-2zM233 95h1v1h-1zM232 96h1v1h-1zM230 97h2v1h-2zM229 98h1v1h-1zM228 99h1v1h-1zM227 100h1v1h-1zM220 105h1v1h-1zM219 106h1v1h-1zM217 107h2v1h-2zM216 108h1v1h-1zM215 109h1v1h-1zM213 110h2v1h-2zM212 111h1v1h-1zM211 112h1v1h-1zM209 113h2v1h-2zM208 114h1v1h-1zM207 115h1v1h-1zM205 116h2v1h-2zM204 117h1v1h-1zM203 118h1v1h-1zM196 123h1v1h-1zM195 124h1v1h-1zM194 125h1v1h-1zM192 126h2v1h-2zM191 127h1v1h-1zM190 128h1v1h-1zM188 129h2v1h-2zM187 130h1v1h-1zM186 131h1v1h-1zM184 132h2v1h-2zM183 133h1v1h-1zM182 134h1v1h-1zM181 135h1v1h-1zM179 136h2v1h-2zM171 142h2v1h-2zM170 143h1v1h-1zM169 144h1v1h-1zM167 145h2v1h-2zM166 146h1v1h-1zM165 147h1v1h-1zM164 148h1v1h-1zM162 149h2v1h-2zM161 150h1v1h-1zM160 151h1v1h-1zM158 152h2v1h-2zM157 153h1v1h-1zM156 154h1v1h-1zM155 155h1v1h-1zM148 160h1v1h-1zM147 161h1v1h-1zM145 162h2v1h-2zM144 163h1v1h-1zM143 164h1v1h-1zM141 165h2v1h-2zM140 166h1v1h-1zM139 167h1v1h-1zM137 168h2v1h-2zM136 169h1v1h-1zM135 170h1v1h-1zM133 171h2v1h-2zM132 172h1v1h-1zM131 173h1v1h-1zM124 178h1v1h-1zM123 179h1v1h-1zM122 180h1v1h-1zM120 181h2v1h-2zM119 182h1v1h-1zM118 183h1v1h-1zM116 184h2v1h-2zM115 185h1v1h-1zM114 186h1v1h-1zM112 187h2v1h-2zM111 188h1v1h-1zM110 189h1v1h-1zM109 190h1v1h-1zM107 191h2v1h-2z" fill="#0000FF" shape-rendering="crispEdges"/>
<path d="M227 27h1v1h-1zM228 28h1v1h-1zM229 29h1v1h-1zM230 30h1v1h-1zM231 31h1v1h-1zM232 32h1v1h-1zM233 33h1v1h-1zM234 34h1v1h-1zM235 35h1v1h-1zM236 36h1v1h-1zM237 37h1v1h-1zM238 38h1v1h-1zM239 39h1v1h-1zM240 40h1v1h-1zM241 41h1v1h-1zM242 42h1v1h-1zM243 43h1v1h-1zM244 44h1v1h-1zM251 51h1v1h-1zM252 52h1v1h-1zM253 53h1v1h-1zM254 54h1v1h-1zM255 55h1v1h-1zM256 56h1v1h-1zM257 57h1v1h-1zM258 58h1v1h-1zM259 59h1v1h-1zM260 60h1v1h-1zM261 61h1v1h-1zM262 62h1v1h-1zM263 63h1v1h-1zM264 64h1v1h-1zM265 65h1v1h-1zM266 66h1v1h-1zM267 67h1v1h-1zM268 68h1v1h-1zM275 75h1v1h-1zM276 76h1v1h-1zM277 77h1v1h-1zM278 78h1v1h-1zM279 79h1v1h-1zM280 80h1v1h-1zM281 81h1v1h-1zM282 82h1v1h-1zM283 83h1v1h-1zM284 84h1v1h-1zM285 85h1v1h-1zM286 86h1v1h-1zM287 87h1v1h-1zM288 88h1v1h-1zM289 89h1v1h-1zM290 90h1v1h-1zM291 91h1v1h-1zM292 92h1v1h-1zM299 99h1v1h-1zM300 100h1v1h-1zM301 101h1v1h-1zM302 102h1v1h-1zM303 103h1v1h-1zM304 104h1v1h-1zM305 105h1v1h-1zM306 106h1v1h-1zM307 107h1v1h-1zM308 108h1v1h-1zM309 109h1v1h-1zM310 110h1v1h-1zM311 111h1v1h-1zM312 112h1v1h-1zM313 113h1v1h-1zM314 114h1v1h-1zM315 115h1v1h-1zM316 116h1v1h-1zM323 123h1v1h-1zM324 124h1v1h-1zM325 125h1v1h-1zM326 126h1v1h-1zM327 127h2v1h-2zM329 128h1v1h-1zM330 129h1v1h-1zM331 130h1v1h-1zM332 131h1v1h-1zM333 132h1v1h-1zM334 133h1v1h-1zM335 134h1v1h-1zM336 135h1v1h-1zM337 136h1v1h-1zM338 137h1v1h-1zM339 138h1v1h-1zM340 139h1v1h-1zM347 146h1v1h-1zM348 147h1v1h-1zM349 148h1v1h-1zM350 149h1v1h-1zM351 150h1v1h-1zM352 151h1v1h-1zM353 152h1v1h-1zM354 153h1v1h-1zM355 154h1v1h-1zM356 155h1v1h-1zM357 156h1v1h-1zM358 157h1v1h-1zM359 158h1v1h-1zM360 159h1v1h-1zM361 160h1v1h-1zM362 161h1v1h-1zM363 162h1v1h-1zM364 163h1v1h-1zM371 170h1v1h-1zM372 171h1v1h-1zM373 172h1v1h-1zM374 173h1v1h-1zM375 174h1v1h-1zM376 175h1v1h-1zM377 176h1v1h-1zM378 177h1v1h-1zM379 178h1v1h-1zM380 179h1v1h-1zM381 180h1v1h-1zM382 181h1v1h-1zM383 182h1v1h-1zM384 183h1v1h-1zM385 184h1v1h-1zM386 185h1v1h-1zM387 186h1v1h-1zM388 187h1v1h-1zM395 194h1v1h-1zM396 195h1v1h-1zM397 196h1v1h-1zM398 197h1v1h-1zM399 198h1v1h-1zM400 199h1v1h-1zM401 200h1v1h-1zM402 201h1v1h-1zM403 202h1v1h-1zM404 203h1v1h-1zM405 204h1v1h-1zM406 205h1v1h-1zM407 206h1v1h-1zM408 207h1v1h-1zM409 208h1v1h-1zM410 209h1v1h-1zM411 210h1v1h-1zM412 211h1v1h-1zM419 218h1v1h-1zM420 219h1v1h-1zM421 220h1v1h-1zM422 221h1v1h-1zM423 222h1v1h-1zM424 223h1v1h-1zM425 224h1v1h-1zM426 225h1v1h-1zM427 226h1v1h-1zM428 227h1v1h-1zM429 228h1v1h-1zM430 229h1v1h-1zM431 230h1v1h-1zM432 231h1v1h-1zM433 232h1v1h-1zM434 233h1v1h-1zM435 234h1v1h-1zM436 235h1v1h-1zM443 242h1v1h-1zM444 243h1v1h-1zM445 244h1v1h-1zM446 245h1v1h-1zM447 246h1v1h-1zM448 247h1v1h-1zM449 248h1v1h-1zM450 249h1v1h-1zM451 250h1v1h-1zM452 251h2v1h-2zM454 252h1v1h-1zM455 253h1v1h-1zM456 254h1v1h-1zM457 255h1v1h-1zM458 256h1v1h-1zM459 257h1v1h-1zM460 258h1v1h-1zM467 265h1v1h-1zM468 266h1v1h-1zM469 267h1v1h-1zM470 268h1v1h-1zM471 269h1v1h-1zM472 270h1v1h-1zM473 271h1v1h-1zM474 272h1v1h-1zM475 273h1v1h-1zM476 274h1v1h-1zM477 275h1v1h-1zM478 276h1v1h-1zM479 277h1v1h-1zM480 278h1v1h-1zM481 279h1v1h-1zM482 280h1v1h-1zM483 281h1v1h-1zM484 282h1v1h-1zM491 289h1v1h-1zM492 290h1v1h-1zM493 291h1v1h-1zM494 292h1v1h-1zM495 293h1v1h-1zM496 294h1v1h-1zM497 295h1v1h-1zM498 296h1v1h-1zM499 297h1v1h-1zM500 298h1v1h-1zM501 299h1v1h-1zM502 300h1v1h-1zM503 301h1v1h-1zM504 302h1v1h-1zM505 303h1v1h-1zM506 304h1v1h-1zM507 305h1v1h-1zM508 306h1v1h-1zM515 313h1v1h-1zM516 314h1v1h-1zM517 315h1v1h-1zM518 316h1v1h-1zM519 317h1v1h-1zM520 318h1v1h-1zM521 319h1v1h-1zM522 320h1v1h-1zM523 321h1v1h-1zM524 322h1v1h-1zM525 323h1v1h-1zM526 324h1v1h-1zM527 325h1v1h-1zM528 326h1v1h-1zM529 327h1v1h-1zM530 328h1v1h-1zM531 329h1v1h-1zM532 330h1v1h-1zM539 337h1v1h-1zM540 338h1v1h-1zM541 339h1v1h-1zM542 340h1v1h-1zM543 341h1v1h-1zM544 342h1v1h-1zM545 343h1v1h-1zM546 344h1v1h-1zM547 345h1v1h-1zM548 346h1v1h-1zM549 347h1v1h-1zM550 348h1v1h-1zM551 349h1v1h-1zM552 350h1v1h-1zM553 351h1v1h-1zM554 352h1v1h-1zM555 353h1v1h-1zM556 354h1v1h-1zM563 361h1v1h-1zM564 362h1v1h-1zM565 363h1v1h-1zM566 364h1v1h-1zM567 365h1v1h-1zM568 366h1v1h-1zM569 367h1v1h-1zM570 368h1v1h-1zM571 369h1v1h-1zM572 370h1v1h-1zM573 371h1v1h-1zM574 372h1v1h-1zM575 373h1v1h-1zM576 374h1v1h-1zM577 375h2v1h-2zM579 376h1v1h-1zM580 377h1v1h-1zM587 384h1v1h-1zM588 385h1v1h-1zM589 386h1v1h-1zM590 387h1v1h-1zM591 388h1v1h-1zM592 389h1v1h-1zM593 390h1v1h-1zM594 391h1v1h-1zM595 392h1v1h-1zM596 393h1v1h-1zM597 394h1v1h-1zM598 395h1v1h-1zM599 396h1v1h-1zM600 397h1v1h-1zM601 398h1v1h-1zM602 399h1v1h-1zM603 400h1v1h-1zM604 401h1v1h-1zM611 408h1v1h-1zM612 409h1v1h-1zM613 410h1v1h-1zM614 411h1v1h-1zM615 412h1v1h-1zM616 413h1v1h-1zM617 414h1v1h-1zM618 415h1v1h-1zM619 416h1v1h-1zM620 417h1v1h-1zM621 418h1v1h-1zM622 419h1v1h-1zM623 420h1v1h-1zM624 421h1v1h-1zM625 422h1v1h-1zM626 423h1v1h-1zM627 424h1v1h-1zM628 425h1v1h-1zM635 432h1v1h-1zM636 433h1v1h-1zM637 434h1v1h-1zM638 435h1v1h-1zM639 436h1v1h-1zM640 437h1v1h-1zM641 438h1v1h-1zM642 439h1v1h-1zM643 440h1v1h-1zM644 441h1v1h-1zM645 442h1v1h-1zM646 443h1v1h-1zM647 444h1v1h-1zM648 445h1v1h-1zM649 446h1v1h-1zM650 447h1v1h-1zM651 448h1v1h-1zM652 449h1v1h-1zM659 456h1v1h-1zM660 457h1v1h-1zM661 458h1v1h-1zM662 459h1v1h-1zM663 460h1v1h-1zM664 461h1v1h-1zM665 462h1v1h-1zM666 463h1v1h-1zM667 464h1v1h-1zM668 465h1v1h-1zM669 466h1v1h-1zM670 467h1v1h-1zM671 468h1v1h-1zM672 469h1v1h-1zM673 470h1v1h-1zM674 471h1v1h-1zM675 472h1v1h-1zM676 473h1v1h-1zM683 480h1v1h-1zM684 481h1v1h-1zM685 482h1v1h-1zM686 483h1v1h-1zM687 484h1v1h-1zM688 485h1v1h-1zM689 486h1v1h-1zM690 487h1v1h-1zM691 488h1v1h-1zM692 489h1v1h-1zM693 490h1v1h-1zM694 491h1v1h-1zM695 492h1v1h-1zM696 493h1v1h-1zM697 494h1v1h-1zM698 495h1v1h-1zM699 496h1v1h-1zM700 497h1v1h-1zM707 503h1v1h-1zM708 504h1v1h-1zM709 505h1v1h-1zM710 506h1v1h-1zM711 507h1v1h-1z" fill="#0000FF" shape-rendering="crispEdges"/>
<path d="M1117 4h1v1h-1zM1116 5h1v1h-1zM1114 6h2v1h-2zM1113 7h1v1h-1zM1111 8h2v1h-2zM1110 9h1v1h-1zM1108 10h2v1h-2zM1107 11h1v1h-1zM1099 16h2v1h-2zM1098 17h1v1h-1zM1096 18h2v1h-2zM1095 19h1v1h-1zM1093 20h2v1h-2zM1092 21h1v1h-1zM1090 22h2v1h-2zM1089 23h1v1h-1zM1087 24h2v1h-2zM1086 25h1v1h-1zM1084 26h2v1h-2zM1083 27h1v1h-1zM1076 32h1v1h-1zM1074 33h2v1h-2zM1073 34h1v1h-1zM1071 35h2v1h-2zM1070 36h1v1h-1zM1068 37h2v1h-2zM1067 38h1v1h-1zM1065 39h2v1h-2zM1064 40h1v1h-1zM1062 41h2v1h-2zM1061 42h1v1h-1zM1059 43h2v1h-2zM1052 48h1v1h-1zM1050 49h2v1h-2zM1049 50h1v1h-1zM1047 51h2v1h-2zM1046 52h1v1h-1zM1044 53h2v1h-2zM1043 54h1v1h-1zM1041 55h2v1h-2zM1040 56h1v1h-1zM1038 57h2v1h-2zM1037 58h1v1h-1zM1035 59h2v1h-2zM1028 64h1v1h-1zM1027 65h1v1h-1zM1025 66h2v1h-2zM1024 67h1v1h-1zM1022 68h2v1h-2zM1021 69h1v1h-1zM1019 70h2v1h-2zM1018 71h1v1h-1zM1016 72h2v1h-2zM1015 73h1v1h-1zM1013 74h2v1h-2zM1012 75h1v1h-1zM1011 76h1v1h-1zM1004 80h1v1h-1zM1003 81h1v1h-1zM1001 82h2v1h-2zM1000 83h1v1h-1zM998 84h2v1h-2zM997 85h1v1h-1zM995 86h2v1h-2zM994 87h1v1h-1zM992 88h2v1h-2zM991 89h1v1h-1zM989 90h2v1h-2zM988 91h1v1h-1zM987 92h1v1h-1zM979 97h2v1h-2zM978 98h1v1h-1zM976 99h2v1h-2zM975 100h1v1h-1zM973 101h2v1h-2zM972 102h1v1h-1zM970 103h2v1h-2zM969 104h1v1h-1zM967 105h2v1h-2zM966 106h1v1h-1zM964 107h2v1h-2zM963 108h1v1h-1zM955 113h2v1h-2zM954 114h1v1h-1zM952 115h2v1h-2zM951 116h1v1h-1zM949 117h2v1h-2zM948 118h1v1h-1zM946 119h2v1h-2zM945 120h1v1h-1zM943 121h2v1h-2zM942 122h1v1h-1zM940 123h2v1h-2zM939 124h1v1h-1zM932 129h1v1h-1zM930 130h2v1h-2zM929 131h1v1h-1zM927 132h2v1h-2zM926 133h1v1h-1zM924 134h2v1h-2zM923 135h1v1h-1zM921 136h2v1h-2zM920 137h1v1h-1zM918 138h2v1h-2zM917 139h1v1h-1zM915 140h2v1h-2zM908 145h1v1h-1zM906 146h2v1h-2zM905 147h1v1h-1zM903 148h2v1h-2zM902 149h1v1h-1zM900 150h2v1h-2zM899 151h1v1h-1zM897 152h2v1h-2zM896 153h1v1h-1zM894 154h2v1h-2zM893 155h1v1h-1zM892 156h1v1h-1zM891 157h1v1h-1zM884 161h1v1h-1zM883 162h1v1h-1zM881 163h2v1h-2zM880 164h1v1h-1zM878 165h2v1h-2zM877 166h1v1h-1zM875 167h2v1h-2zM874 168h1v1h-1zM872 169h2v1h-2zM871 170h1v1h-1zM869 171h2v1h-2zM868 172h1v1h-1zM867 173h1v1h-1zM860 177h1v1h-1zM859 178h1v1h-1zM857 179h2v1h-2zM856 180h1v1h-1zM854 181h2v1h-2zM853 182h1v1h-1zM851 183h2v1h-2zM850 184h1v1h-1zM848 185h2v1h-2zM847 186h1v1h-1zM846 187h1v1h-1zM844 188h2v1h-2zM843 189h1v1h-1zM835 194h2v1h-2zM834 195h1v1h-1zM832 196h2v1h-2zM831 197h1v1h-1zM829 198h2v1h-2zM828 199h1v1h-1zM826 200h2v1h-2zM825 201h1v1h-1zM823 202h2v1h-2zM822 203h1v1h-1zM820 204h2v1h-2zM819 205h1v1h-1zM811 210h2v1h-2zM810 211h1v1h-1zM808 212h2v1h-2zM807 213h1v1h-1zM805 214h2v1h-2zM804 215h1v1h-1zM803 216h1v1h-1zM801 217h2v1h-2zM800 218h1v1h-1zM798 219h2v1h-2zM797 220h1v1h-1zM795 221h2v1h-2zM788 226h1v1h-1zM786 227h2v1h-2zM785 228h1v1h-1zM783 229h2v1h-2zM782 230h1v1h-1zM780 231h2v1h-2zM779 232h1v1h-1zM777 233h2v1h-2zM776 234h1v1h-1zM774 235h2v1h-2zM773 236h1v1h-1zM771 237h2v1h-2zM764 242h1v1h-1zM762 243h2v1h-2zM761 244h1v1h-1zM759 245h2v1h-2zM758 246h1v1h-1zM757 247h1v1h-1zM755 248h2v1h-2zM754 249h1v1h-1zM752 250h2v1h-2zM751 251h1v1h-1zM749 252h2v1h-2zM748 253h1v1h-1zM747 254h1v1h-1zM740 258h1v1h-1zM739 259h1v1h-1zM737 260h2v1h-2zM736 261h1v1h-1zM734 262h2v1h-2zM733 263h1v1h-1zM731 264h2v1h-2zM730 265h1v1h-1zM728 266h2v1h-2zM727 267h1v1h-1zM725 268h2v1h-2zM724 269h1v1h-1zM723 270h1v1h-1zM716 274h1v1h-1zM715 275h1v1h-1zM713 276h2v1h-2zM712 277h1v1h-1zM711 278h1v1h-1zM709 279h2v1h-2zM708 280h1v1h-1zM706 281h2v1h-2zM705 282h1v1h-1zM703 283h2v1h-2zM702 284h1v1h-1zM700 285h2v1h-2zM699 286h1v1h-1zM691 291h2v1h-2zM690 292h1v1h-1zM688 293h2v1h-2zM687 294h1v1h-1zM685 295h2v1h-2zM684 296h1v1h-1zM682 297h2v1h-2zM681 298h1v1h-1zM679 299h2v1h-2zM678 300h1v1h-1zM676 301h2v1h-2zM675 302h1v1h-1zM667 307h2v1h-2zM666 308h1v1h-1zM665 309h1v1h-1zM663 310h2v1h-2zM662 311h1v1h-1zM660 312h2v1h-2zM659 313h1v1h-1zM657 314h2v1h-2zM656 315h1v1h-1zM654 316h2v1h-2zM653 317h1v1h-1zM651 318h2v1h-2zM644 323h1v1h-1zM642 324h2v1h-2zM641 325h1v1h-1zM639 326h2v1h-2zM638 327h1v1h-1zM636 328h2v1h-2zM635 329h1v1h-1zM633 330h2v1h-2zM632 331h1v1h-1zM630 332h2v1h-2zM629 333h1v1h-1zM627 334h2v1h-2zM620 339h1v1h-1zM619 340h1v1h-1zM617 341h2v1h-2zM616 342h1v1h-1zM614 343h2v1h-2zM613 344h1v1h-1zM611 345h2v1h-2zM610 346h1v1h-1zM608 347h2v1h-2zM607 348h1v1h-1zM605 349h2v1h-2zM604 350h1v1h-1zM603 351h1v1h-1zM596 355h1v1h-1zM595 356h1v1h-1zM593 357h2v1h-2zM592 358h1v1h-1zM590 359h2v1h-2zM589 360h1v1h-1zM587 361h2v1h-2zM586 362h1v1h-1zM584 363h2v1h-2zM583 364h1v1h-1zM581 365h2v1h-2zM580 366h1v1h-1zM579 367h1v1h-1zM571 372h2v1h-2zM570 373h1v1h-1zM568 374h2v1h-2zM567 375h1v1h-1zM565 376h2v1h-2zM564 377h1v1h-1zM562 378h2v1h-2zM561 379h1v1h-1zM559 380h2v1h-2zM558 381h1v1h-1zM556 382h2v1h-2zM555 383h1v1h-1zM547 388h2v1h-2zM546 389h1v1h-1zM544 390h2v1h-2zM543 391h1v1h-1zM541 392h2v1h-2zM540 393h1v1h-1zM538 394h2v1h-2zM537 395h1v1h-1zM535 396h2v1h-2zM534 397h1v1h-1zM532 398h2v1h-2zM531 399h1v1h-1zM524 404h1v1h-1zM522 405h2v1h-2zM521 406h1v1h-1zM519 407h2v1h-2zM518 408h1v1h-1zM516 409h2v1h-2zM515 410h1v1h-1zM513 411h2v1h-2zM512 412h1v1h-1zM510 413h2v1h-2zM509 414h1v1h-1zM507 415h2v1h-2zM500 420h1v1h-1zM498 421h2v1h-2zM497 422h1v1h-1zM495 423h2v1h-2zM494 424h1v1h-1zM492 425h2v1h-2zM491 426h1v1h-1zM489 427h2v1h-2zM488 428h1v1h-1zM486 429h2v1h-2zM485 430h1v1h-1zM483 431h2v1h-2zM476 436h1v1h-1zM475 437h1v1h-1zM473 438h2v1h-2zM472 439h1v1h-1zM470 440h2v1h-2zM469 441h1v1h-1zM467 442h2v1h-2zM466 443h1v1h-1zM464 444h2v1h-2zM463 445h1v1h-1zM461 446h2v1h-2zM460 447h1v1h-1zM459 448h1v1h-1zM452 452h1v1h-1zM451 453h1v1h-1zM449 454h2v1h-2zM448 455h1v1h-1zM446 456h2v1h-2zM445 457h1v1h-1zM443 458h2v1h-2zM442 459h1v1h-1zM440 460h2v1h-2zM439 461h1v1h-1zM438 462h1v1h-1zM436 463h2v1h-2zM435 464h1v1h-1zM427 469h2v1h-2zM426 470h1v1h-1zM424 471h2v1h-2zM423 472h1v1h-1zM421 473h2v1h-2zM420 474h1v1h-1zM418 475h2v1h-2zM417 476h1v1h-1zM415 477h2v1h-2zM414 478h1v1h-1zM412 479h2v1h-2zM411 480h1v1h-1zM403 485h2v1h-2zM402 486h1v1h-1zM400 487h2v1h-2zM399 488h1v1h-1zM397 489h2v1h-2zM396 490h1v1h-1zM394 491h2v1h-2zM393 492h1v1h-1zM392 493h1v1h-1zM390 494h2v1h-2zM389 495h1v1h-1zM387 496h2v1h-2z" fill="#0000FF" shape-rendering="crispEdges"/>
<text x="1142" y="24.5" text-anchor="end" font-family="Liberation Sans, sans-serif" letter-spacing="0.2" font-size="12.3" fill="#00008B">0.0</text>
<rect x="3" y="142" width="1140" height="1" fill="#00008B" shape-rendering="crispEdges"/>
<text x="1142" y="139.5" text-anchor="end" font-family="Liberation Sans, sans-serif" letter-spacing="0.2" font-size="12.3" fill="#00008B">23.6</text>
<text x="1142" y="210.5" text-anchor="end" font-family="Liberation Sans, sans-serif" letter-spacing="0.2" font-size="12.3" fill="#00008B">38.2</text>
<rect x="3" y="270" width="1140" height="1" fill="#00008B" shape-rendering="crispEdges"/>
<text x="1142" y="267.5" text-anchor="end" font-family="Liberation Sans, sans-serif" letter-spacing="0.2" font-size="12.3" fill="#00008B">50.0</text>
<rect x="3" y="327" width="1140" height="1" fill="#00008B" shape-rendering="crispEdges"/>
<text x="1142" y="324.5" text-anchor="end" font-family="Liberation Sans, sans-serif" letter-spacing="0.2" font-size="12.3" fill="#00008B">61.8</text>
<text x="1142" y="509.5" text-anchor="end" font-family="Liberation Sans, sans-serif" letter-spacing="0.2" font-size="12.3" fill="#00008B">100.0</text>
<rect x="3" y="195" width="1140" height="1" fill="#00008B" shape-rendering="crispEdges"/>
<rect x="3" y="26" width="1140" height="2" fill="#008000" shape-rendering="crispEdges"/>
<rect x="3" y="91" width="1140" height="2" fill="#008000" shape-rendering="crispEdges"/>
<rect x="3" y="127" width="1140" height="2" fill="#008000" shape-rendering="crispEdges"/>
<rect x="3" y="154" width="1140" height="2" fill="#008000" shape-rendering="crispEdges"/>
<rect x="3" y="212" width="1140" height="2" fill="#FF0000" shape-rendering="crispEdges"/>
<rect x="3" y="258" width="1140" height="2" fill="#FF0000" shape-rendering="crispEdges"/>
<rect x="3" y="295" width="1140" height="2" fill="#FF0000" shape-rendering="crispEdges"/>
<rect x="3" y="328" width="1140" height="2" fill="#FF0000" shape-rendering="crispEdges"/>
<text transform="translate(234.2,33.6) scale(1.0,1.045)" font-family="Liberation Sans, sans-serif" font-size="32" fill="#000">5</text>
<text transform="translate(276,497.7) scale(1.02,1.045)" font-family="Liberation Sans, sans-serif" font-size="32" fill="#FF8C00">A or C?</text>
<text transform="translate(563,153.8) scale(0.93,1.045)" font-family="Liberation Sans, sans-serif" font-size="32" fill="#FF8C00">a</text>
<text transform="translate(609.5,360) scale(1.02,1.045)" font-family="Liberation Sans, sans-serif" font-size="32" fill="#FF8C00">b</text>
<text transform="translate(842,113) scale(1.02,1.045)" font-family="Liberation Sans, sans-serif" font-size="32" fill="#FF8C00">B/c</text>
<text transform="translate(892.3,110.8) scale(1.08,1.0)" font-family="Liberation Serif, serif" font-size="32" fill="#FF8C00">?</text>
</g>
<path d="M6.5 10.5 L15.5 10.5 L11 15 Z" fill="#000"/>
<text x="20.5" y="17" font-family="Liberation Sans, sans-serif" font-size="12.3" textLength="80.5" lengthAdjust="spacingAndGlyphs" fill="#000">Japan225,Daily</text>
<text x="109.2" y="17" font-family="Liberation Sans, sans-serif" letter-spacing="0.2" font-size="12.3" fill="#000">38448</text>
<text x="148.0" y="17" font-family="Liberation Sans, sans-serif" letter-spacing="0.2" font-size="12.3" fill="#000">38558</text>
<text x="186.8" y="17" font-family="Liberation Sans, sans-serif" letter-spacing="0.2" font-size="12.3" fill="#000">38225</text>
<text x="225.6" y="17" font-family="Liberation Sans, sans-serif" letter-spacing="0.2" font-size="12.3" fill="#000">38310</text>
<g clip-path="url(#cd)">
<g shape-rendering="crispEdges">
<rect x="0" y="558" width="7" height="2" fill="#000"/>
<rect x="8" y="558" width="7" height="2" fill="#000"/>
<rect x="16" y="557" width="7" height="3" fill="#000"/>
<rect x="24" y="556" width="7" height="4" fill="#000"/>
<rect x="32" y="557" width="7" height="3" fill="#000"/>
<rect x="40" y="558" width="7" height="2" fill="#000"/>
<rect x="72" y="562" width="7" height="1" fill="#000"/>
<rect x="80" y="562" width="7" height="1" fill="#000"/>
<rect x="88" y="562" width="7" height="2" fill="#000"/>
<rect x="96" y="562" width="7" height="1" fill="#000"/>
<rect x="112" y="559" width="7" height="1" fill="#000"/>
<rect x="120" y="556" width="7" height="4" fill="#000"/>
<rect x="128" y="553" width="7" height="7" fill="#000"/>
<rect x="136" y="550" width="7" height="10" fill="#000"/>
<rect x="144" y="547" width="7" height="13" fill="#000"/>
<rect x="152" y="547" width="7" height="13" fill="#000"/>
<rect x="160" y="543" width="7" height="17" fill="#000"/>
<rect x="168" y="539" width="7" height="21" fill="#000"/>
<rect x="176" y="534" width="7" height="26" fill="#000"/>
<rect x="184" y="531" width="7" height="29" fill="#000"/>
<rect x="192" y="529" width="7" height="31" fill="#000"/>
<rect x="200" y="528" width="7" height="32" fill="#000"/>
<rect x="208" y="525" width="7" height="35" fill="#000"/>
<rect x="216" y="519" width="7" height="41" fill="#000"/>
<rect x="224" y="518" width="7" height="42" fill="#000"/>
<rect x="232" y="520" width="7" height="40" fill="#000"/>
<rect x="240" y="521" width="7" height="39" fill="#000"/>
<rect x="248" y="522" width="7" height="38" fill="#000"/>
<rect x="256" y="529" width="7" height="31" fill="#000"/>
<rect x="264" y="535" width="7" height="25" fill="#000"/>
<rect x="272" y="542" width="7" height="18" fill="#000"/>
<rect x="280" y="547" width="7" height="13" fill="#000"/>
<rect x="288" y="551" width="7" height="9" fill="#000"/>
<rect x="296" y="556" width="7" height="4" fill="#000"/>
<rect x="304" y="562" width="7" height="4" fill="#000"/>
<rect x="312" y="562" width="7" height="13" fill="#000"/>
<rect x="320" y="562" width="7" height="18" fill="#000"/>
<rect x="328" y="562" width="7" height="22" fill="#000"/>
<rect x="336" y="562" width="7" height="24" fill="#000"/>
<rect x="344" y="562" width="7" height="27" fill="#000"/>
<rect x="352" y="562" width="7" height="26" fill="#000"/>
<rect x="360" y="562" width="7" height="35" fill="#000"/>
<rect x="368" y="562" width="7" height="49" fill="#000"/>
<rect x="376" y="562" width="7" height="61" fill="#000"/>
<rect x="384" y="562" width="7" height="72" fill="#000"/>
<rect x="392" y="562" width="7" height="81" fill="#000"/>
<rect x="400" y="562" width="7" height="84" fill="#000"/>
<rect x="408" y="562" width="7" height="79" fill="#000"/>
<rect x="416" y="562" width="7" height="76" fill="#000"/>
<rect x="424" y="562" width="7" height="73" fill="#000"/>
<rect x="432" y="562" width="7" height="68" fill="#000"/>
<rect x="440" y="562" width="7" height="60" fill="#000"/>
<rect x="448" y="562" width="7" height="54" fill="#000"/>
<rect x="456" y="562" width="7" height="42" fill="#000"/>
<rect x="464" y="562" width="7" height="33" fill="#000"/>
<rect x="472" y="562" width="7" height="25" fill="#000"/>
<rect x="480" y="562" width="7" height="18" fill="#000"/>
<rect x="488" y="562" width="7" height="13" fill="#000"/>
<rect x="496" y="562" width="7" height="8" fill="#000"/>
<rect x="504" y="562" width="7" height="2" fill="#000"/>
<rect x="512" y="559" width="7" height="1" fill="#000"/>
<rect x="520" y="556" width="7" height="4" fill="#000"/>
<rect x="528" y="554" width="7" height="6" fill="#000"/>
<rect x="536" y="552" width="7" height="8" fill="#000"/>
<rect x="544" y="551" width="7" height="9" fill="#000"/>
<rect x="552" y="549" width="7" height="11" fill="#000"/>
<rect x="560" y="545" width="7" height="15" fill="#000"/>
<rect x="568" y="541" width="7" height="19" fill="#000"/>
<rect x="576" y="541" width="7" height="19" fill="#000"/>
<rect x="584" y="546" width="7" height="14" fill="#000"/>
<rect x="592" y="555" width="7" height="5" fill="#000"/>
<rect x="608" y="562" width="7" height="11" fill="#000"/>
<rect x="616" y="562" width="7" height="19" fill="#000"/>
<rect x="624" y="562" width="7" height="21" fill="#000"/>
<rect x="632" y="562" width="7" height="23" fill="#000"/>
<rect x="640" y="562" width="7" height="22" fill="#000"/>
<rect x="648" y="562" width="7" height="20" fill="#000"/>
<rect x="656" y="562" width="7" height="21" fill="#000"/>
<rect x="664" y="562" width="7" height="20" fill="#000"/>
<rect x="672" y="562" width="7" height="19" fill="#000"/>
<rect x="680" y="562" width="7" height="19" fill="#000"/>
<rect x="688" y="562" width="7" height="15" fill="#000"/>
<rect x="696" y="562" width="7" height="9" fill="#000"/>
<rect x="704" y="562" width="7" height="3" fill="#000"/>
<rect x="712" y="558" width="7" height="2" fill="#000"/>
<rect x="720" y="554" width="7" height="6" fill="#000"/>
<rect x="728" y="553" width="7" height="7" fill="#000"/>
<rect x="736" y="549" width="7" height="11" fill="#000"/>
<rect x="744" y="543" width="7" height="17" fill="#000"/>
<rect x="752" y="545" width="7" height="15" fill="#000"/>
<rect x="760" y="545" width="7" height="15" fill="#000"/>
<rect x="768" y="543" width="7" height="17" fill="#000"/>
<rect x="776" y="544" width="7" height="16" fill="#000"/>
<rect x="784" y="540" width="7" height="20" fill="#000"/>
<rect x="792" y="539" width="7" height="21" fill="#000"/>
<rect x="800" y="534" width="7" height="26" fill="#000"/>
<rect x="808" y="531" width="7" height="29" fill="#000"/>
<rect x="816" y="531" width="7" height="29" fill="#000"/>
<rect x="824" y="530" width="7" height="30" fill="#000"/>
<rect x="832" y="528" width="7" height="32" fill="#000"/>
<rect x="840" y="528" width="7" height="32" fill="#000"/>
<rect x="848" y="527" width="7" height="33" fill="#000"/>
<rect x="856" y="527" width="7" height="33" fill="#000"/>
<rect x="864" y="525" width="7" height="35" fill="#000"/>
<rect x="872" y="528" width="7" height="32" fill="#000"/>
<rect x="880" y="529" width="7" height="31" fill="#000"/>
<rect x="888" y="534" width="7" height="26" fill="#000"/>
<rect x="896" y="537" width="7" height="23" fill="#000"/>
<rect x="904" y="540" width="7" height="20" fill="#000"/>
<rect x="912" y="543" width="7" height="17" fill="#000"/>
<rect x="920" y="547" width="7" height="13" fill="#000"/>
<rect x="928" y="554" width="7" height="6" fill="#000"/>
<rect x="936" y="558" width="7" height="2" fill="#000"/>
<rect x="952" y="562" width="7" height="4" fill="#000"/>
<rect x="960" y="562" width="7" height="4" fill="#000"/>
<rect x="968" y="562" width="7" height="1" fill="#000"/>
<rect x="976" y="559" width="7" height="1" fill="#000"/>
<rect x="984" y="562" width="7" height="1" fill="#000"/>
<rect x="1024" y="557" width="7" height="3" fill="#000"/>
<rect x="1032" y="553" width="7" height="7" fill="#000"/>
<rect x="1040" y="553" width="7" height="7" fill="#000"/>
<rect x="1048" y="552" width="7" height="8" fill="#000"/>
<rect x="1056" y="550" width="7" height="10" fill="#000"/>
<rect x="1064" y="550" width="7" height="10" fill="#000"/>
<rect x="1072" y="552" width="7" height="8" fill="#000"/>
<rect x="1080" y="555" width="7" height="5" fill="#000"/>
<rect x="1088" y="559" width="7" height="1" fill="#000"/>
<rect x="1096" y="562" width="7" height="1" fill="#000"/>
<rect x="1104" y="562" width="7" height="3" fill="#000"/>
<rect x="1112" y="562" width="7" height="5" fill="#000"/>
<rect x="1120" y="562" width="7" height="6" fill="#000"/>
<rect x="3" y="560" width="1140" height="2" fill="#000"/>
</g>
<polyline points="3.0,559.9 36.0,559.8 42.0,558.3 55.0,558.3 60.0,558.9 88.0,559.1 96.0,560.3 100.0,562.5 127.0,562.5 134.0,560.8 142.0,558.5 167.0,550.5 183.0,545.0 190.0,543.8 206.7,538.0 223.3,532.2 240.0,526.3 256.7,523.8 265.0,524.2 281.7,528.0 298.3,536.3 315.0,548.0 331.7,560.2 348.3,570.5 365.0,579.7 373.3,587.2 381.7,594.7 390.0,601.3 397.9,609.7 415.7,624.0 433.6,633.8 442.6,634.7 456.9,632.0 469.4,623.1 487.2,607.9 505.1,590.9 523.0,576.6 531.9,570.4 549.8,562.3 558.7,557.9 567.7,554.3 580.7,550.2 593.2,548.6 605.7,550.2 620.0,555.2 632.6,562.3 646.9,570.4 659.4,575.7 671.9,579.8 682.6,581.6 695.1,581.5 705.8,578.4 721.9,572.2 739.8,565.4 748.7,561.4 757.7,557.0 770.0,552.5 777.9,548.9 795.7,544.8 813.6,540.0 831.5,537.0 849.4,532.8 863.7,529.6 876.2,528.9 894.0,529.8 908.3,532.3 920.9,535.2 929.8,537.7 938.7,541.8 950.0,547.1 967.9,555.2 985.7,560.5 1003.6,563.8 1021.5,563.8 1039.4,560.5 1057.2,557.3 1075.1,554.6 1093.0,553.4 1105.5,554.8 1116.2,557.3 1124.0,558.8" fill="none" stroke="#FF0000" stroke-width="2.6" stroke-linejoin="round"/>
</g>
<text x="7" y="525.5" font-family="Liberation Sans, sans-serif" letter-spacing="0.2" font-size="12.3" fill="#000">MACD(12,26,9) -106.4 53.0</text>
<g clip-path="url(#cr)">
<line x1="3" y1="691.5" x2="1143" y2="691.5" stroke="#C0C0C0" stroke-width="1" stroke-dasharray="3 3" shape-rendering="crispEdges"/>
<line x1="3" y1="739.5" x2="1143" y2="739.5" stroke="#C0C0C0" stroke-width="1" stroke-dasharray="3 3" shape-rendering="crispEdges"/>
<polyline points="3,715.3 11,708.3 19,712.3 27,707.7 35,716.9 43,719.9 51,719.9 59,719.9 67,717.3 75,721.3 83,717.3 91,718.9 99,719.3 107,713.3 115,702.7 123,702.3 131,699.7 139,696.7 147,696.3 155,703.9 163,695.3 171,689.9 179,687.3 187,686.9 195,690.3 203,690.3 211,684.3 219,679.3 227,694.3 235,701.3 243,701.3 251,700.3 259,718.3 267,718.3 275,723.3 283,719.9 291,719.9 299,725.9 307,735.3 315,738.7 323,733.3 331,732.9 339,731.9 347,734.3 355,724.9 363,740.3 371,747.7 379,749.9 387,750.7 395,752.3 403,742.3 411,728.9 419,731.3 427,730.9 435,728.9 443,719.9 451,721.3 459,711.3 467,711.3 475,711.3 483,710.3 491,712.3 499,709.3 507,707.7 515,707.3 523,709.9 531,710.3 539,708.9 547,710.3 555,706.9 563,700.9 571,700.3 579,705.9 587,721.3 595,729.3 603,724.9 611,735.3 619,735.3 627,725.3 635,725.9 643,720.3 651,719.9 659,722.3 667,720.3 675,719.9 683,719.9 691,715.3 699,707.3 707,705.3 715,703.9 723,705.3 731,710.3 739,705.3 747,697.7 755,715.3 763,709.9 771,708.9 779,712.3 787,704.9 795,708.3 803,701.3 811,701.3 819,708.3 827,705.3 835,703.9 843,704.9 851,703.3 859,702.9 867,701.9 875,712.3 883,709.9 891,711.3 899,711.3 907,713.9 915,714.3 923,719.9 931,725.9 939,723.3 947,723.3 955,725.9 963,715.9 971,709.9 979,709.9 987,719.9 995,717.3 1003,718.9 1011,718.9 1019,713.3 1027,703.3 1035,702.9 1043,713.3 1051,710.3 1059,707.9 1067,711.3 1075,716.7 1083,718.3 1091,724.9 1099,723.9 1107,721.3 1115,720.9 1123,722.3" fill="none" stroke="#1E90FF" stroke-width="2.2" stroke-linejoin="round"/>
</g>
<text x="6" y="669.5" font-family="Liberation Sans, sans-serif" letter-spacing="0.2" font-size="12.3" fill="#000">RSI(14) 44.7297</text>
<g shape-rendering="crispEdges" fill="#000">
<rect x="2" y="2" width="1142" height="1"/>
<rect x="2" y="2" width="1" height="507"/>
<rect x="2" y="508" width="1142" height="1"/>
<rect x="1143" y="2" width="1" height="507"/>
<rect x="2" y="510" width="1142" height="1"/>
<rect x="2" y="510" width="1" height="143"/>
<rect x="2" y="652" width="1142" height="1"/>
<rect x="1143" y="510" width="1" height="143"/>
<rect x="2" y="654" width="1142" height="1"/>
<rect x="2" y="654" width="1" height="123"/>
<rect x="2" y="776" width="1142" height="1"/>
<rect x="1143" y="654" width="1" height="123"/>
</g>
<g shape-rendering="crispEdges" fill="#000">
<rect x="1144" y="48" width="2" height="1"/>
<rect x="1144" y="97" width="2" height="1"/>
<rect x="1144" y="146" width="2" height="1"/>
<rect x="1144" y="195" width="2" height="1"/>
<rect x="1144" y="244" width="2" height="1"/>
<rect x="1144" y="293" width="2" height="1"/>
<rect x="1144" y="342" width="2" height="1"/>
<rect x="1144" y="391" width="2" height="1"/>
<rect x="1144" y="440" width="2" height="1"/>
<rect x="1144" y="489" width="2" height="1"/>
</g>
<text x="1150" y="52.5" font-family="Liberation Sans, sans-serif" letter-spacing="0.2" font-size="12.3" fill="#000">42004</text>
<text x="1150" y="101.5" font-family="Liberation Sans, sans-serif" letter-spacing="0.2" font-size="12.3" fill="#000">40779</text>
<text x="1150" y="150.5" font-family="Liberation Sans, sans-serif" letter-spacing="0.2" font-size="12.3" fill="#000">39529</text>
<text x="1150" y="199.5" font-family="Liberation Sans, sans-serif" letter-spacing="0.2" font-size="12.3" fill="#000">38304</text>
<text x="1150" y="248.5" font-family="Liberation Sans, sans-serif" letter-spacing="0.2" font-size="12.3" fill="#000">37079</text>
<text x="1150" y="297.5" font-family="Liberation Sans, sans-serif" letter-spacing="0.2" font-size="12.3" fill="#000">35854</text>
<text x="1150" y="346.5" font-family="Liberation Sans, sans-serif" letter-spacing="0.2" font-size="12.3" fill="#000">34604</text>
<text x="1150" y="395.5" font-family="Liberation Sans, sans-serif" letter-spacing="0.2" font-size="12.3" fill="#000">33354</text>
<text x="1150" y="444.5" font-family="Liberation Sans, sans-serif" letter-spacing="0.2" font-size="12.3" fill="#000">32129</text>
<text x="1150" y="493.5" font-family="Liberation Sans, sans-serif" letter-spacing="0.2" font-size="12.3" fill="#000">30904</text>
<rect x="1145" y="21" width="45" height="14" fill="#008000" shape-rendering="crispEdges"/>
<text x="1150" y="32.8" font-family="Liberation Sans, sans-serif" letter-spacing="0.2" font-size="12.3" fill="#fff">42535</text>
<rect x="1145" y="86" width="45" height="14" fill="#008000" shape-rendering="crispEdges"/>
<text x="1150" y="97.8" font-family="Liberation Sans, sans-serif" letter-spacing="0.2" font-size="12.3" fill="#fff">40900</text>
<rect x="1145" y="122" width="45" height="14" fill="#008000" shape-rendering="crispEdges"/>
<text x="1150" y="133.8" font-family="Liberation Sans, sans-serif" letter-spacing="0.2" font-size="12.3" fill="#fff">40000</text>
<rect x="1145" y="149" width="45" height="14" fill="#008000" shape-rendering="crispEdges"/>
<text x="1150" y="160.8" font-family="Liberation Sans, sans-serif" letter-spacing="0.2" font-size="12.3" fill="#fff">39310</text>
<rect x="1145" y="207" width="45" height="14" fill="#FF0000" shape-rendering="crispEdges"/>
<text x="1150" y="218.8" font-family="Liberation Sans, sans-serif" letter-spacing="0.2" font-size="12.3" fill="#fff">37850</text>
<rect x="1145" y="253" width="45" height="14" fill="#FF0000" shape-rendering="crispEdges"/>
<text x="1150" y="264.8" font-family="Liberation Sans, sans-serif" letter-spacing="0.2" font-size="12.3" fill="#fff">36700</text>
<rect x="1145" y="290" width="45" height="14" fill="#FF0000" shape-rendering="crispEdges"/>
<text x="1150" y="301.8" font-family="Liberation Sans, sans-serif" letter-spacing="0.2" font-size="12.3" fill="#fff">35750</text>
<rect x="1145" y="323" width="45" height="14" fill="#FF0000" shape-rendering="crispEdges"/>
<text x="1150" y="334.8" font-family="Liberation Sans, sans-serif" letter-spacing="0.2" font-size="12.3" fill="#fff">34930</text>
<rect x="1145" y="188" width="45" height="14" fill="#000" shape-rendering="crispEdges"/>
<text x="1150" y="199.5" font-family="Liberation Sans, sans-serif" letter-spacing="0.2" font-size="12.3" fill="#fff">38310</text>
<text x="1147" y="523.5" font-family="Liberation Sans, sans-serif" letter-spacing="0.2" font-size="12.3" fill="#000">891.7</text>
<text x="1147" y="649" font-family="Liberation Sans, sans-serif" letter-spacing="0.2" font-size="12.3" fill="#000">-1622.7</text>
<rect x="1145" y="554" width="8" height="14" fill="#000" shape-rendering="crispEdges"/>
<text x="1146" y="565.5" font-family="Liberation Sans, sans-serif" letter-spacing="0.2" font-size="12.3" fill="#fff">0</text>
<text x="1153.6" y="565.5" font-family="Liberation Sans, sans-serif" letter-spacing="0.2" font-size="12.3" fill="#000">.00</text>
<text x="1147" y="667.8" font-family="Liberation Sans, sans-serif" letter-spacing="0.2" font-size="12.3" fill="#000">100</text>
<text x="1147" y="695.8" font-family="Liberation Sans, sans-serif" letter-spacing="0.2" font-size="12.3" fill="#000">70</text>
<text x="1147" y="743.8" font-family="Liberation Sans, sans-serif" letter-spacing="0.2" font-size="12.3" fill="#000">30</text>
<text x="1147" y="772.8" font-family="Liberation Sans, sans-serif" letter-spacing="0.2" font-size="12.3" fill="#000">0</text>
<g shape-rendering="crispEdges" fill="#000">
<rect x="3" y="777" width="1" height="3"/>
<rect x="99" y="777" width="1" height="3"/>
<rect x="195" y="777" width="1" height="3"/>
<rect x="291" y="777" width="1" height="3"/>
<rect x="387" y="777" width="1" height="3"/>
<rect x="483" y="777" width="1" height="3"/>
<rect x="579" y="777" width="1" height="3"/>
<rect x="675" y="777" width="1" height="3"/>
<rect x="771" y="777" width="1" height="3"/>
<rect x="867" y="777" width="1" height="3"/>
<rect x="963" y="777" width="1" height="3"/>
<rect x="1059" y="777" width="1" height="3"/>
</g>
<text x="2" y="791.5" font-family="Liberation Sans, sans-serif" letter-spacing="0.2" font-size="12.3" fill="#000">9 Jun 2024</text>
<text x="98" y="791.5" font-family="Liberation Sans, sans-serif" letter-spacing="0.2" font-size="12.3" fill="#000">23 Jun 2024</text>
<text x="194" y="791.5" font-family="Liberation Sans, sans-serif" letter-spacing="0.2" font-size="12.3" fill="#000">7 Jul 2024</text>
<text x="290" y="791.5" font-family="Liberation Sans, sans-serif" letter-spacing="0.2" font-size="12.3" fill="#000">22 Jul 2024</text>
<text x="386" y="791.5" font-family="Liberation Sans, sans-serif" letter-spacing="0.2" font-size="12.3" fill="#000">5 Aug 2024</text>
<text x="482" y="791.5" font-family="Liberation Sans, sans-serif" letter-spacing="0.2" font-size="12.3" fill="#000">19 Aug 2024</text>
<text x="578" y="791.5" font-family="Liberation Sans, sans-serif" letter-spacing="0.2" font-size="12.3" fill="#000">2 Sep 2024</text>
<text x="674" y="791.5" font-family="Liberation Sans, sans-serif" letter-spacing="0.2" font-size="12.3" fill="#000">16 Sep 2024</text>
<text x="770" y="791.5" font-family="Liberation Sans, sans-serif" letter-spacing="0.2" font-size="12.3" fill="#000">30 Sep 2024</text>
<text x="866" y="791.5" font-family="Liberation Sans, sans-serif" letter-spacing="0.2" font-size="12.3" fill="#000">14 Oct 2024</text>
<text x="962" y="791.5" font-family="Liberation Sans, sans-serif" letter-spacing="0.2" font-size="12.3" fill="#000">28 Oct 2024</text>
<text x="1058" y="791.5" font-family="Liberation Sans, sans-serif" letter-spacing="0.2" font-size="12.3" fill="#000">11 Nov 2024</text>
</svg>
</body></html>
